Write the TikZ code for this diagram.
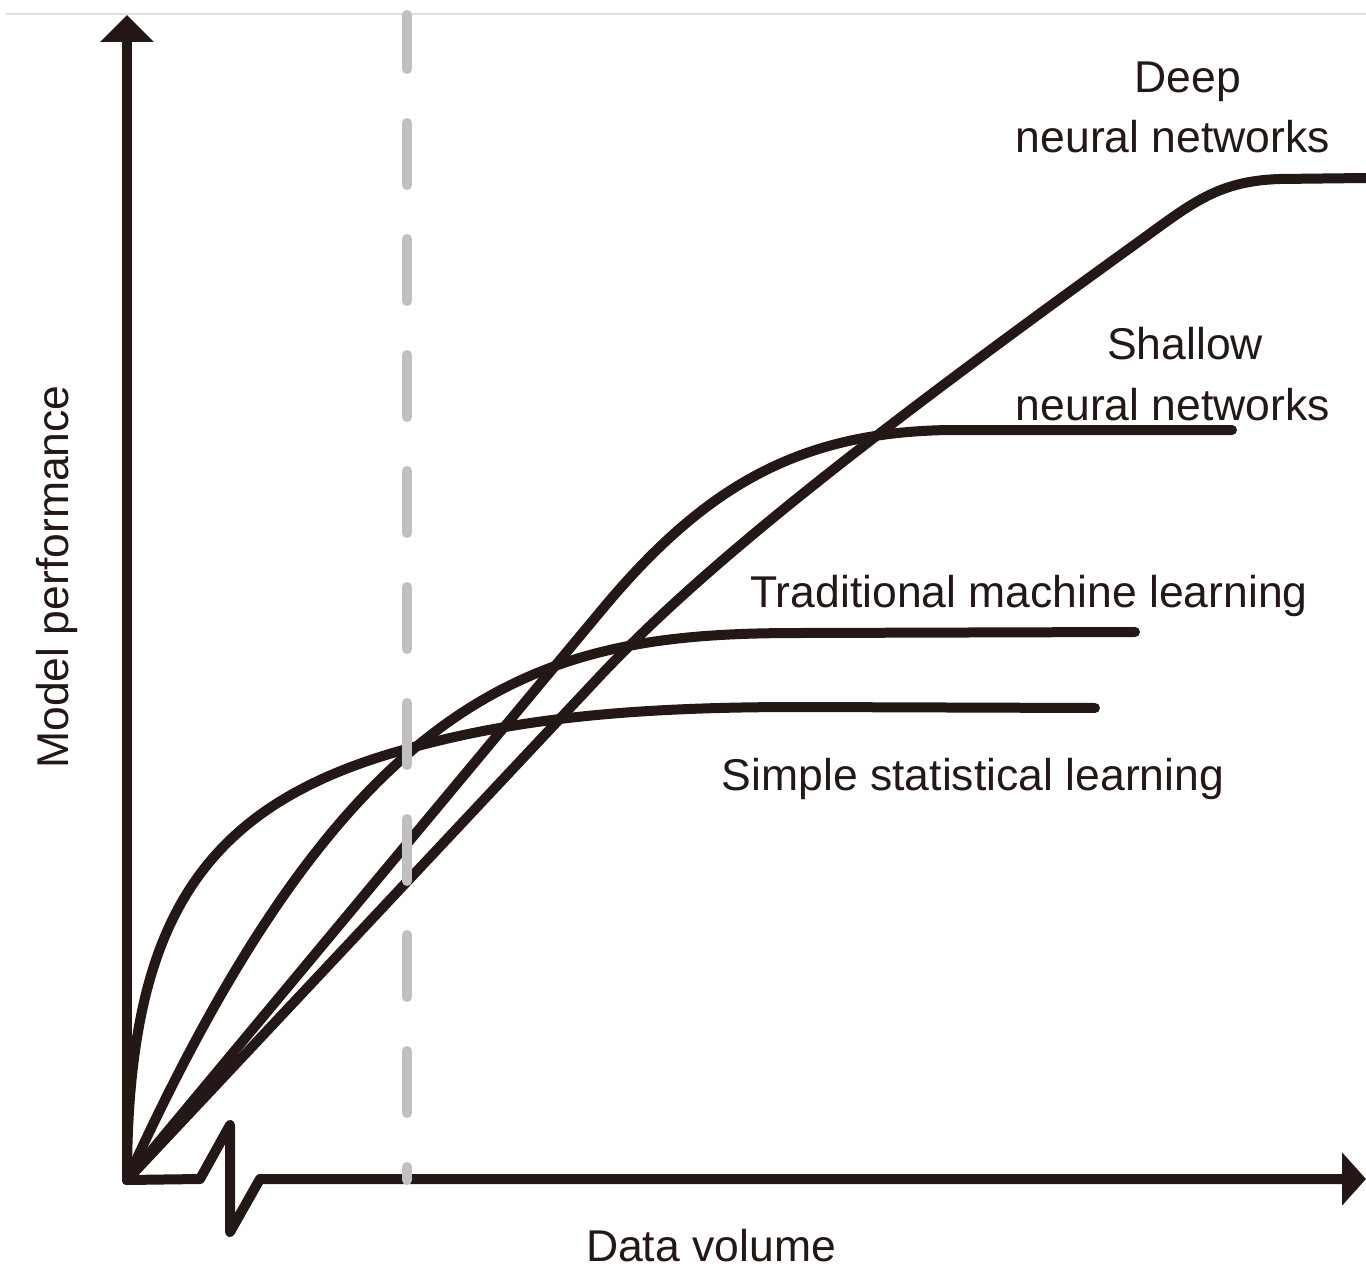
\documentclass[tikz,border=0pt]{standalone}
\usepackage{fontspec}
\setmainfont{Liberation Sans}
\usetikzlibrary{arrows.meta}
\definecolor{ink}{RGB}{35,24,21}
\definecolor{dashgrey}{RGB}{192,192,192}
\definecolor{rulegrey}{RGB}{222,222,222}
\begin{document}
\begin{tikzpicture}[x=1pt,y=-1pt,
  curve/.style={draw=ink,line width=10pt,line cap=round,line join=round},
  axisline/.style={draw=ink,line width=10pt,line cap=round,line join=round},
  guide/.style={draw=dashgrey,line width=10pt,line cap=round,dash pattern=on 62pt off 54pt,dash phase=8pt},
  lbl/.style={font=\fontsize{44.5}{61}\selectfont,text=ink,inner sep=0pt,anchor=base}]
\useasboundingbox (0,0) rectangle (1366,1268);
\fill[white] (0,0) rectangle (1366,1268);
% thin top rule
\draw[rulegrey,line width=2.5pt] (6,14) -- (1366,14);

\coordinate (O) at (127,1180);
\coordinate (ytip) at (127,15);
\coordinate (xbreakA) at (200,1179);
\coordinate (xbreakB) at (230,1125);
\coordinate (xbreakC) at (230,1232);
\coordinate (xbreakD) at (260,1179);
\coordinate (xtip) at (1366,1179);
\coordinate (gtop) at (407,15);
\coordinate (gbot) at (407,1180);

% simple statistical learning
\draw[curve] (O) .. controls (127,920) and (203,806) .. (403,750)
  .. controls (520,717) and (640,707) .. (800,707) -- (1095,708);
% traditional machine learning
\draw[curve] (O) .. controls (357,674) and (550,633) .. (800,633) -- (1135,632);
% shallow neural networks
\draw[curve] (O) -- (600,612) .. controls (705,485) and (800,432) .. (950,430) -- (1232,430);
% deep neural networks
\draw[curve] (O) -- (600,676) .. controls (700,570) and (850,450) .. (1130,248)
  .. controls (1190,205) and (1215,181) .. (1280,179) -- (1366,178);

% axes
\draw[axisline,-{Triangle[length=27pt,width=52pt]}] (O) -- (ytip);
\draw[axisline,-{Triangle[length=24pt,width=52pt]}] (O) -- (xbreakA) -- (xbreakB) -- (xbreakC) -- (xbreakD) -- (xtip);

% dashed guide
\draw[guide] (gtop) -- (gbot);

% labels
\node[lbl] (deepA) at (1188,93) {Deep};
\node[lbl] (deepB) at (1173,153) {neural networks};
\node[lbl] (shalA) at (1185,359) {Shallow};
\node[lbl] (shalB) at (1173,420) {neural networks};
\node[lbl] (trad) at (1029,607) {Traditional machine learning};
\node[lbl] (simp) at (973,790) {Simple statistical learning};
\node[lbl] (xlab) at (711,1261) {Data volume};
\node[lbl,rotate=90] (ylab) at (68,577) {Model performance};
\end{tikzpicture}
\end{document}
